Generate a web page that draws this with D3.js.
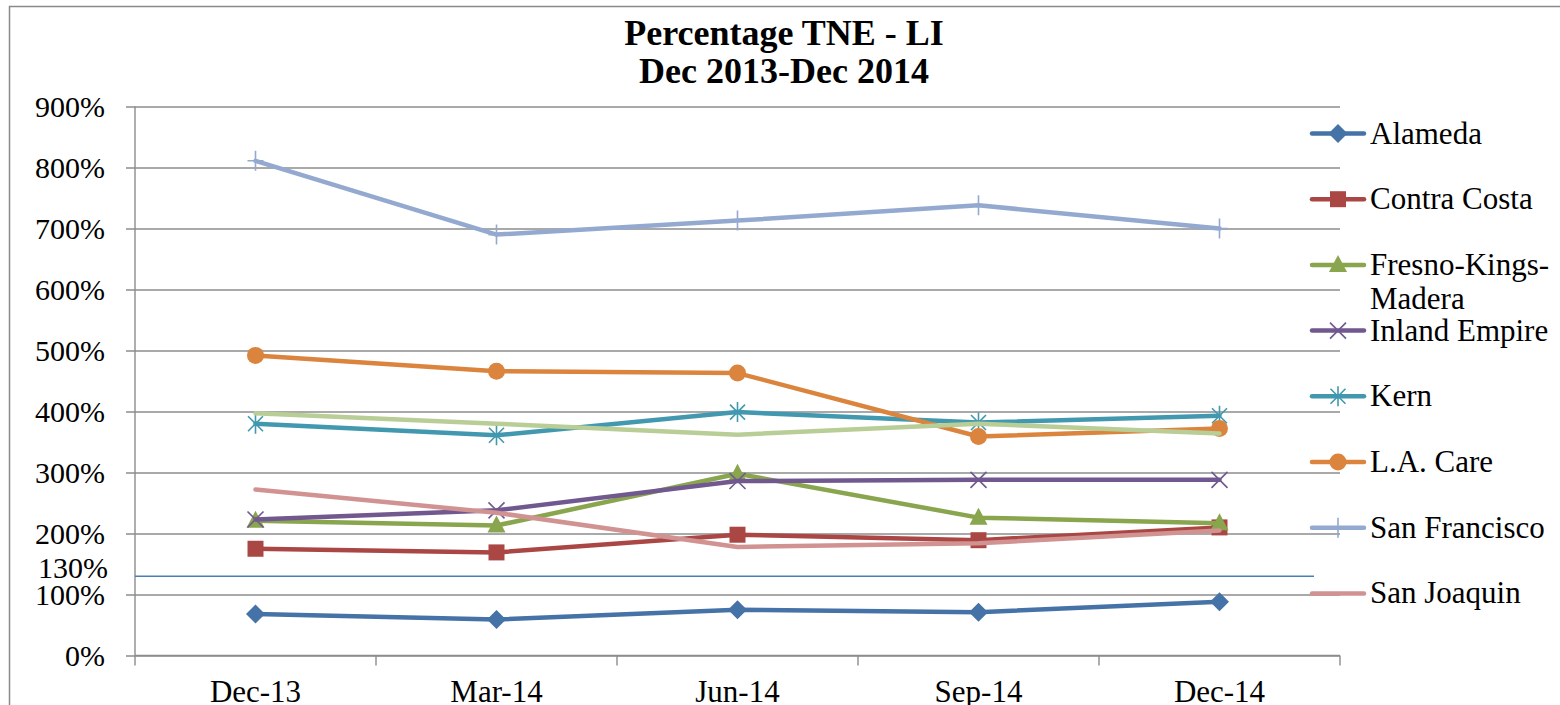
<!DOCTYPE html>
<html>
<head>
<meta charset="utf-8">
<script src="https://cdn.jsdelivr.net/npm/d3@7"></script>
<style>
  html, body { margin: 0; padding: 0; background: #fff; }
  svg { display: block; }
</style>
</head>
<body>
<svg id="chart" width="1560" height="705"></svg>
<script>
// quarters on the x axis
var categories = ['Dec-13', 'Mar-14', 'Jun-14', 'Sep-14', 'Dec-14'];

// percentage values, one array per county plan
var alameda = [68, 59, 75, 71, 88];
var contraCosta = [175, 169, 198, 189, 210];
var fresnoKingsMadera = [221, 213, 298, 226, 217];
var inlandEmpire = [223, 238, 286, 288, 288];
var kern = [380, 361, 399, 382, 393];
var laCare = [492, 466, 463, 359, 372];
var sanFrancisco = [811, 690, 713, 738, 700];
var sanJoaquin = [272, 234, 178, 184, 205];
// ninth series, its legend entry is cut off in the original
var unlabeled = [397, 380, 362, 380, 364];

var yTicks = [0, 100, 200, 300, 400, 500, 600, 700, 800, 900];
var targetLine = 130;

var series = [
    { name: ['Alameda'], values: alameda, color: '#4572A7', marker: 'diamond' },
    { name: ['Contra Costa'], values: contraCosta, color: '#AA4643', marker: 'square' },
    { name: ['Fresno-Kings-', 'Madera'], values: fresnoKingsMadera, color: '#89A54E', marker: 'triangle' },
    { name: ['Inland Empire'], values: inlandEmpire, color: '#71588F', marker: 'x' },
    { name: ['Kern'], values: kern, color: '#4198AF', marker: 'star' },
    { name: ['L.A. Care'], values: laCare, color: '#DB843D', marker: 'circle' },
    { name: ['San Francisco'], values: sanFrancisco, color: '#93A9CF', marker: 'plus' },
    { name: ['San Joaquin'], values: sanJoaquin, color: '#D19392', marker: 'none' },
    { name: null, values: unlabeled, color: '#B9CD96', marker: 'none' }
];

var FONT = '"Liberation Serif", "Times New Roman", serif';

var svg = d3.select('#chart');

var plot = { left: 135, right: 1340, top: 106.5, bottom: 655.5 };

var x = d3.scalePoint()
    .domain(categories)
    .range([plot.left, plot.right])
    .padding(0.5);

var y = d3.scaleLinear()
    .domain([0, 900])
    .range([plot.bottom, plot.top]);

// chart frame (only top and left edges are inside the picture)
svg.append('path')
    .attr('d', 'M9.5,705 L9.5,6.5 L1560,6.5')
    .attr('fill', 'none')
    .attr('stroke', '#8a8a8a')
    .attr('stroke-width', 1.5);

// title
var title = svg.append('text')
    .attr('text-anchor', 'middle')
    .style('font-family', FONT)
    .attr('font-weight', 'bold')
    .attr('font-size', 36)
    .attr('fill', '#000');
title.append('tspan').attr('x', 784).attr('y', 45).text('Percentage TNE - LI');
title.append('tspan').attr('x', 784).attr('y', 83).text('Dec 2013-Dec 2014');

// y gridlines + labels
var yAxis = d3.axisLeft(y)
    .tickValues(yTicks)
    .tickSize(-(plot.right - plot.left))
    .tickPadding(30)
    .tickFormat(function(d) { return d + '%'; });

var gy = svg.append('g')
    .attr('transform', 'translate(' + plot.left + ',0)')
    .call(yAxis);
gy.select('.domain').remove();
gy.selectAll('.tick line')
    .attr('x1', -9)
    .attr('stroke', '#8c8c8c')
    .attr('stroke-width', 1.4);
gy.selectAll('.tick text')
    .attr('font-size', 30)
    .style('font-family', FONT)
    .attr('fill', '#000');

// y axis line
svg.append('line')
    .attr('x1', plot.left).attr('x2', plot.left)
    .attr('y1', plot.top).attr('y2', plot.bottom)
    .attr('stroke', '#8c8c8c')
    .attr('stroke-width', 1.4);

// x axis, tick marks sit between categories
var step = x.step();
var xBounds = d3.range(categories.length + 1).map(function(i) { return plot.left + i * step; });

svg.append('line')
    .attr('x1', plot.left).attr('x2', plot.right)
    .attr('y1', plot.bottom).attr('y2', plot.bottom)
    .attr('stroke', '#8c8c8c')
    .attr('stroke-width', 1.4);

svg.selectAll('.xtick')
    .data(xBounds)
    .enter().append('line')
    .attr('class', 'xtick')
    .attr('x1', function(d) { return d; })
    .attr('x2', function(d) { return d; })
    .attr('y1', plot.bottom)
    .attr('y2', plot.bottom + 10)
    .attr('stroke', '#8c8c8c')
    .attr('stroke-width', 1.4);

svg.selectAll('.xlabel')
    .data(categories)
    .enter().append('text')
    .attr('class', 'xlabel')
    .attr('x', function(d) { return x(d); })
    .attr('y', 702)
    .attr('text-anchor', 'middle')
    .style('font-family', FONT)
    .attr('font-size', 31)
    .attr('fill', '#000')
    .text(function(d) { return d; });

// 130% reference line and its label
svg.append('line')
    .attr('x1', plot.left).attr('x2', 1314)
    .attr('y1', y(targetLine)).attr('y2', y(targetLine))
    .attr('stroke', '#4A7EBB')
    .attr('stroke-width', 1.5);

svg.append('text')
    .attr('x', 108)
    .attr('y', y(targetLine) + 2)
    .attr('text-anchor', 'end')
    .style('font-family', FONT)
    .attr('font-size', 30)
    .attr('fill', '#000')
    .text(targetLine + '%');

function markerPath(type) {
    switch (type) {
        case 'diamond': return 'M0,-9.5L9.5,0L0,9.5L-9.5,0Z';
        case 'square': return 'M-8,-8H8V8H-8Z';
        case 'triangle': return 'M0,-10L9,7H-9Z';
        case 'circle': return d3.symbol().type(d3.symbolCircle).size(Math.PI * 8.5 * 8.5)();
        case 'x': return 'M-8,-8L8,8M-8,8L8,-8';
        case 'star': return 'M-7.5,-7.5L7.5,7.5M-7.5,7.5L7.5,-7.5M0,-10V10';
        case 'plus': return 'M0,-10V10M-8,0H8';
        default: return null;
    }
}

function isStroked(type) {
    return type === 'x' || type === 'star' || type === 'plus';
}

function drawMarker(g, s, cx, cy) {
    var d = markerPath(s.marker);
    if (!d) { return; }
    var m = g.append('path')
        .attr('d', d)
        .attr('transform', 'translate(' + cx + ',' + cy + ')');
    if (isStroked(s.marker)) {
        m.attr('fill', 'none').attr('stroke', s.color).attr('stroke-width', 1.6);
    } else {
        m.attr('fill', s.color).attr('stroke', 'none');
    }
}

var line = d3.line()
    .x(function(d, i) { return x(categories[i]); })
    .y(function(d) { return y(d); });

series.forEach(function(s) {
    var g = svg.append('g');
    g.append('path')
        .datum(s.values)
        .attr('fill', 'none')
        .attr('stroke', s.color)
        .attr('stroke-width', 4.5)
        .attr('stroke-linejoin', 'round')
        .attr('stroke-linecap', 'round')
        .attr('d', line);
    s.values.forEach(function(v, i) {
        drawMarker(g, s, x(categories[i]), y(v));
    });
});

// legend
var legendTop = 133.5;
var legendGap = 65.7;
var legend = svg.append('g');
series.filter(function(s) { return s.name; }).forEach(function(s, i) {
    var ly = legendTop + i * legendGap;
    var g = legend.append('g');
    g.append('line')
        .attr('x1', 1312).attr('x2', 1364)
        .attr('y1', ly).attr('y2', ly)
        .attr('stroke', s.color)
        .attr('stroke-width', 4.5)
        .attr('stroke-linecap', 'round');
    drawMarker(g, s, 1338, ly);
    var t = g.append('text')
        .style('font-family', FONT)
        .attr('font-size', 31)
        .attr('fill', '#000');
    s.name.forEach(function(part, k) {
        t.append('tspan')
            .attr('x', 1370)
            .attr('y', ly + 10 + k * 34)
            .text(part);
    });
});
</script>
</body>
</html>
